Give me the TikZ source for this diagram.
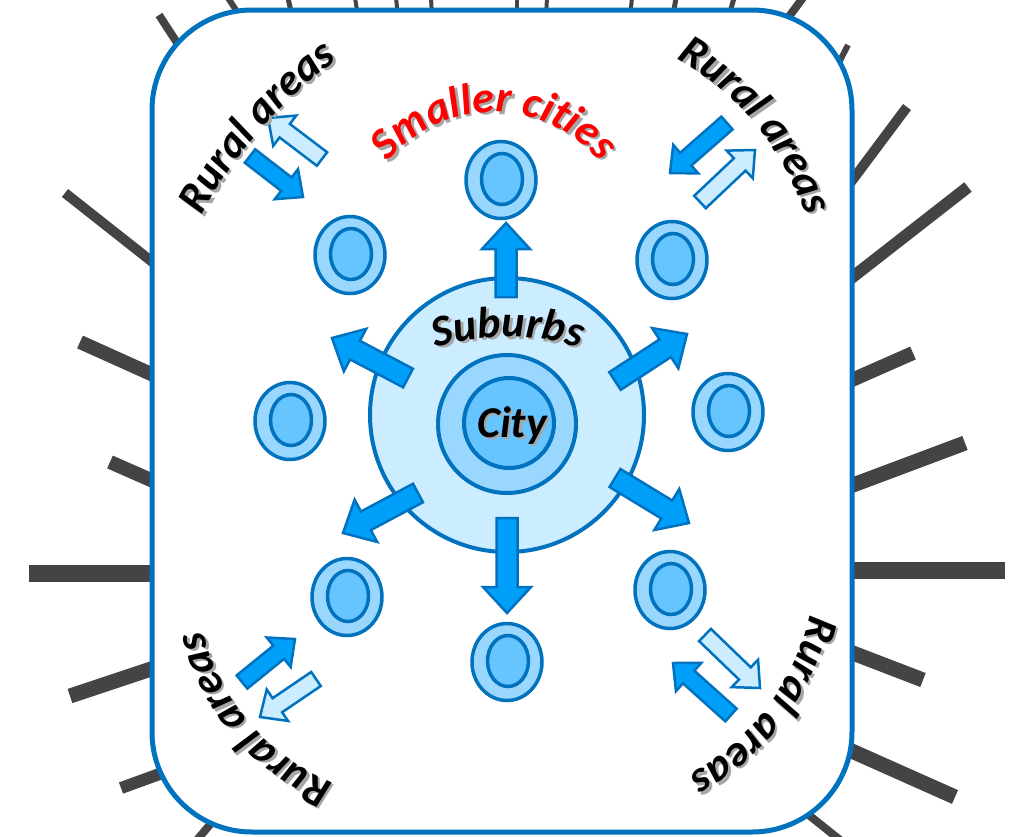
\documentclass[tikz,border=0pt]{standalone}
\usepackage{fontspec}
\newfontfamily\calfont{Carlito}
\usetikzlibrary{calc,shapes.geometric,decorations.text}
\definecolor{bcol}{RGB}{0,114,190}
\definecolor{afill}{RGB}{0,160,250}
\definecolor{lfill}{RGB}{204,236,255}
\definecolor{mfill}{RGB}{153,215,255}
\definecolor{ifill}{RGB}{102,196,255}
\definecolor{barcol}{RGB}{68,68,68}
\newcommand\bigfont{\calfont\fontsize{44}{48}\selectfont\bfseries\itshape}
% block arrow: style, from, to, shaft half width, head half width, head length
\newcommand\blockarr[6]{%
  \coordinate (tmpq) at ($(#3)!#6!(#2)$);
  \draw[#1] ($(#2)!#4!90:(#3)$) -- ($(tmpq)!#4!90:(#3)$) -- ($(tmpq)!#5!90:(#3)$) -- (#3)
    -- ($(tmpq)!#5!-90:(#3)$) -- ($(tmpq)!#4!-90:(#3)$) -- ($(#2)!#4!-90:(#3)$) -- cycle;
}
% text on arc: cx, cy, radius, start, end, colour, text (with soft shadow)
\newcommand\arctext[7]{%
  \path[shift={(2.5,2.5)}, decorate, decoration={text along path, text align=center,
    text={|\bigfont\color{black!35}|#7}}] (#1,#2) ++(#4:#3) arc[start angle=#4, end angle=#5, radius=#3];
  \path[decorate, decoration={text along path, text align=center,
    text={|\bigfont\color{#6}|#7}}] (#1,#2) ++(#4:#3) arc[start angle=#4, end angle=#5, radius=#3];
}
\tikzset{
  bar/.style={draw=barcol},
  darkarr/.style={draw=bcol, fill=afill, line width=2.5pt},
  lightarr/.style={draw=bcol, fill=lfill, line width=2.5pt},
  scity/.style={ellipse, draw=bcol, line width=3.5pt, fill=mfill, minimum width=70pt, minimum height=77pt, inner sep=0pt},
  scin/.style={ellipse, draw=bcol, line width=3.5pt, fill=ifill, minimum width=41pt, minimum height=51pt, inner sep=0pt},
}
\begin{document}
\begin{tikzpicture}[x=1pt, y=-1pt]
\useasboundingbox (0,0) rectangle (1018,836);
\clip (0,0) rectangle (1018,836);
% background radial bars
\draw[bar, line width=8pt] (159,15) -- (185,55);
\draw[bar, line width=10pt] (65,193) -- (160,268);
\draw[bar, line width=14pt] (80,342) -- (160,378);
\draw[bar, line width=14pt] (110,462) -- (160,484);
\draw[bar, line width=17pt] (29,573) -- (160,573);
\draw[bar, line width=15pt] (70,696) -- (160,666);
\draw[bar, line width=12pt] (121,788) -- (165,772);
\draw[bar, line width=8pt] (197,840) -- (218,815);
\draw[bar, line width=8pt] (785,22) -- (805,-5);
\draw[bar, line width=6pt] (830,80) -- (848,45);
\draw[bar, line width=10pt] (845,190) -- (907,107);
\draw[bar, line width=12pt] (845,283) -- (968,187);
\draw[bar, line width=14pt] (845,383) -- (913,353);
\draw[bar, line width=15pt] (845,488) -- (965,443);
\draw[bar, line width=17pt] (845,570) -- (1005,570);
\draw[bar, line width=15pt] (845,650) -- (923,680);
\draw[bar, line width=15pt] (845,748) -- (955,797);
\draw[bar, line width=8pt] (800,808) -- (840,840);
\draw[bar, line width=6pt] (228,-2) -- (240,16);
\draw[bar, line width=5pt] (288,-2) -- (292,16);
\draw[bar, line width=4pt] (355,-2) -- (358,16);
\draw[bar, line width=4pt] (396,-2) -- (398,16);
\draw[bar, line width=4pt] (431,-2) -- (432,16);
\draw[bar, line width=4pt] (517,-2) -- (517,16);
\draw[bar, line width=4pt] (547,-2) -- (546,16);
\draw[bar, line width=4pt] (632,-2) -- (630,16);
\draw[bar, line width=5pt] (676,-2) -- (673,16);
\draw[bar, line width=5pt] (734,-2) -- (729,16);
% frame
\draw[draw=bcol, line width=5pt, fill=white, rounded corners=100pt] (152,10) rectangle (852,832);
% suburbs
\node[circle, draw=bcol, line width=4pt, fill=lfill, minimum size=274pt, inner sep=0pt] (sub) at (507,415) {};
% main arrows
\coordinate (aU1) at (506,297); \coordinate (aU2) at (506,223);
\coordinate (aD1) at (507,518); \coordinate (aD2) at (507,613);
\coordinate (aUL1) at (408,378); \coordinate (aUL2) at (332,338);
\coordinate (aLL1) at (418,493); \coordinate (aLL2) at (343,533);
\coordinate (aUR1) at (615,381); \coordinate (aUR2) at (687,334);
\coordinate (aLR1) at (615,478); \coordinate (aLR2) at (689,523);
\blockarr{darkarr}{aU1}{aU2}{10.5pt}{24pt}{26pt}
\blockarr{darkarr}{aD1}{aD2}{10.5pt}{24pt}{26pt}
\blockarr{darkarr}{aUL1}{aUL2}{10.5pt}{24pt}{26pt}
\blockarr{darkarr}{aLL1}{aLL2}{10.5pt}{24pt}{26pt}
\blockarr{darkarr}{aUR1}{aUR2}{10.5pt}{24pt}{26pt}
\blockarr{darkarr}{aLR1}{aLR2}{10.5pt}{24pt}{26pt}
% rural arrows
\coordinate (r1a) at (250,156); \coordinate (r1b) at (303,197);
\coordinate (r2a) at (322,159); \coordinate (r2b) at (268,118);
\coordinate (r3a) at (727,123); \coordinate (r3b) at (670,173);
\coordinate (r4a) at (700,202); \coordinate (r4b) at (755,150);
\coordinate (r5a) at (242,682); \coordinate (r5b) at (295,639);
\coordinate (r6a) at (316,679); \coordinate (r6b) at (260,717);
\coordinate (r7a) at (705,635); \coordinate (r7b) at (760,688);
\coordinate (r8a) at (731,715); \coordinate (r8b) at (673,663);
\blockarr{darkarr}{r1a}{r1b}{8.5pt}{19pt}{21pt}
\blockarr{lightarr}{r2a}{r2b}{8.5pt}{19pt}{21pt}
\blockarr{darkarr}{r3a}{r3b}{8.5pt}{19pt}{21pt}
\blockarr{lightarr}{r4a}{r4b}{8.5pt}{19pt}{21pt}
\blockarr{darkarr}{r5a}{r5b}{8.5pt}{19pt}{21pt}
\blockarr{lightarr}{r6a}{r6b}{8.5pt}{19pt}{21pt}
\blockarr{lightarr}{r7a}{r7b}{8.5pt}{19pt}{21pt}
\blockarr{darkarr}{r8a}{r8b}{8.5pt}{19pt}{21pt}
% city
\node[circle, draw=bcol, line width=4pt, fill=mfill, minimum size=138pt, inner sep=0pt] (cityring) at (507,424) {};
\node[circle, draw=bcol, line width=4pt, fill=ifill, minimum size=90pt, inner sep=0pt] (citycore) at (509,423) {};
\node[font=\bigfont, text=black!35, anchor=base] (cityshadow) at (514.5,439.5) {City};
\node[font=\bigfont, anchor=base] (citytxt) at (512,437) {City};
% smaller cities
\foreach \n/\px/\py in {c1/501/180, c2/350/255, c3/672/260, c4/290/421, c5/347/597, c6/728/412, c7/670/590, c8/507/662}{
  \node[scity] (\n) at (\px,\py) {};
  \node[scin] (\n in) at (\px+1,\py-1) {};
}
% arc texts
\arctext{508}{587}{250}{245}{295}{black}{Suburbs}
\arctext{494}{249}{137}{205}{335}{red}{Smaller cities}
\arctext{591}{417}{438}{201}{241}{black}{Rural areas}
\arctext{541.5}{301.8}{278}{292}{349}{black}{Rural areas}
\arctext{412.4}{583.8}{214}{104}{175}{black}{Rural areas}
\arctext{573.7}{562.4}{242}{7}{67}{black}{Rural areas}
\end{tikzpicture}
\end{document}
